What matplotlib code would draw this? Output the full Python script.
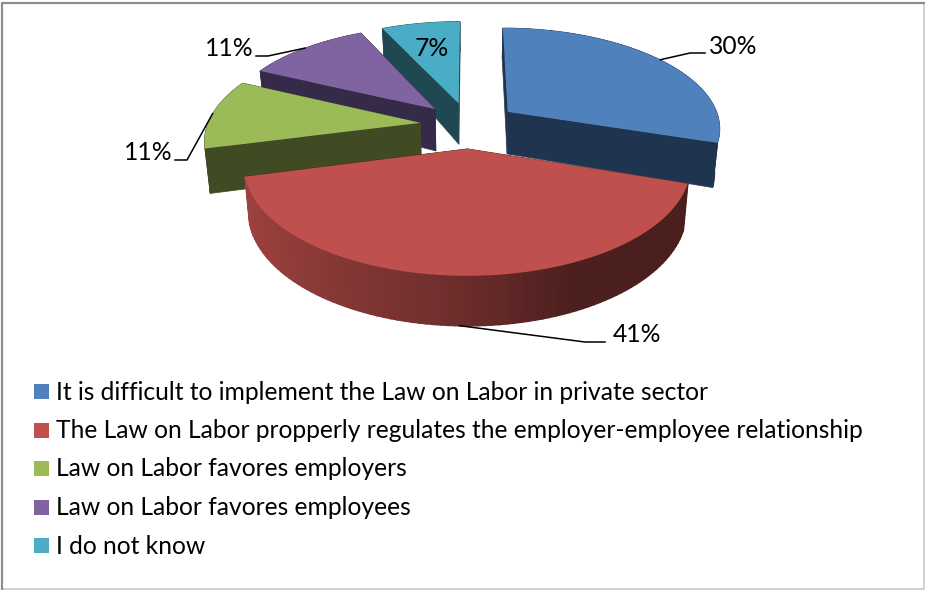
import numpy as np
import matplotlib.pyplot as plt
from matplotlib.patches import Polygon, Rectangle

plt.rcParams['font.family'] = ['Lato', 'DejaVu Sans']

categories = [
    'It is difficult to implement the Law on Labor in private sector',
    'The Law on Labor propperly regulates the employer-employee relationship',
    'Law on Labor favores employers',
    'Law on Labor favores employees',
    'I do not know',
]
values = [30, 41, 11, 11, 7]
top_colors = ['#4F81BD', '#C0504D', '#9BBB59', '#8064A2', '#4BACC6']
cut_colors = ['#1F344F', '#4A1F1D', '#404A23', '#352A47', '#1F4853']

# pie geometry, in pixels of the figure
CX, CY = 469, 125
RX, RY = 213, 100
PERSP = 0.15
EXPLODE = 0.23


def project(X, Y, lower=False):
    s = 1 / (1 - PERSP * np.asarray(Y))
    x = CX + RX * np.asarray(X) * s
    y = CY + RY * np.asarray(Y) * s
    if lower:
        x = CX + (x - CX) * 0.98
        y = y + np.interp(s, [0.85, 1, 1.23], [30, 44, 50])
    return x, y


def shade(color, f):
    c = np.array(plt.matplotlib.colors.to_rgb(color))
    return tuple(np.clip(c * f, 0, 1))


def wall_shade(u):
    # goes darker from left to right, flat past the middle
    return np.interp(u, [-1, 0, 0.4, 1], [0.83, 0.56, 0.40, 0.38])


fig = plt.figure(figsize=(9.25, 5.9), dpi=100)
ax = fig.add_axes([0, 0, 1, 1])
ax.set_xlim(0, 925)
ax.set_ylim(590, 0)
ax.axis('off')

edges = np.cumsum([0] + values) / sum(values) * 2 * np.pi
mids = (edges[:-1] + edges[1:]) / 2

# back slices first, the big front one last
for z, i in enumerate([4, 3, 2, 0, 1]):
    t = np.linspace(edges[i], edges[i + 1], 90)
    ex, ey = EXPLODE * np.sin(mids[i]), -EXPLODE * np.cos(mids[i])
    X = np.sin(t) + ex
    Y = -np.cos(t) + ey
    xt, yt = project(X, Y)
    xb, yb = project(X, Y, lower=True)
    ax_, ay_ = project(ex, ey)
    bx_, by_ = project(ex, ey, lower=True)

    # two cut faces
    for j in [0, -1]:
        ax.add_patch(Polygon([(ax_, ay_), (xt[j], yt[j]), (xb[j], yb[j]), (bx_, by_)],
                             fc=cut_colors[i], ec=cut_colors[i], lw=0.5, zorder=z))
    # curved wall, split into strips for the shading
    if i == 1:
        for k in range(len(t) - 1):
            col = shade(top_colors[i], wall_shade(np.sin(t[k])))
            ax.add_patch(Polygon([(xt[k], yt[k]), (xt[k + 1], yt[k + 1]), (xb[k + 1], yb[k + 1]), (xb[k], yb[k])],
                                 fc=col, ec=col, lw=1.2, zorder=z))
    else:
        ax.add_patch(Polygon(np.r_[np.c_[xt, yt], np.c_[xb, yb][::-1]],
                             fc=cut_colors[i], ec=cut_colors[i], lw=0.5, zorder=z))
    # top face
    ax.add_patch(Polygon(np.r_[[(ax_, ay_)], np.c_[xt, yt]], fc=top_colors[i], ec='none', zorder=z + 0.5))

# percent labels with their leader lines
label_pos = [(733, 47), (637, 334), (148, 153), (229, 48), (432, 49)]
elbow = [[(690, 53), (705, 53)], [(585, 342), (605, 342)], [(187, 160), (175, 160)], [(268, 56), (256, 56)], None]
for i, v in enumerate(values):
    ax.text(label_pos[i][0], label_pos[i][1], f'{v}%', fontsize=17.7, color='black',
            ha='center', va='center', zorder=10)
    if elbow[i] is None:
        continue
    ex, ey = EXPLODE * np.sin(mids[i]), -EXPLODE * np.cos(mids[i])
    x0, y0 = project(np.sin(mids[i]) + ex, -np.cos(mids[i]) + ey, lower=(i == 1))
    pts = [(x0, y0)] + elbow[i]
    ax.plot([p[0] for p in pts], [p[1] for p in pts], color='black', lw=1.1, zorder=10)

# legend, drawn by hand to keep the tall line spacing
for i, name in enumerate(categories):
    y = 391.5 + i * 38.5
    ax.add_patch(Rectangle((34, y - 7.5), 15, 15, fc=top_colors[i], ec='none'))
    ax.text(56, y + 0.5, name, fontsize=17.7, va='center', ha='left', color='black')

# chart frame
ax.plot([2, 2, 924], [590, 3, 3], color='#8c8c8c', lw=1.6, zorder=20)
ax.plot([2, 924, 924], [589, 589, 3], color='#c8c8c8', lw=1.2, zorder=19)

fig.savefig('out.png', dpi=100)
